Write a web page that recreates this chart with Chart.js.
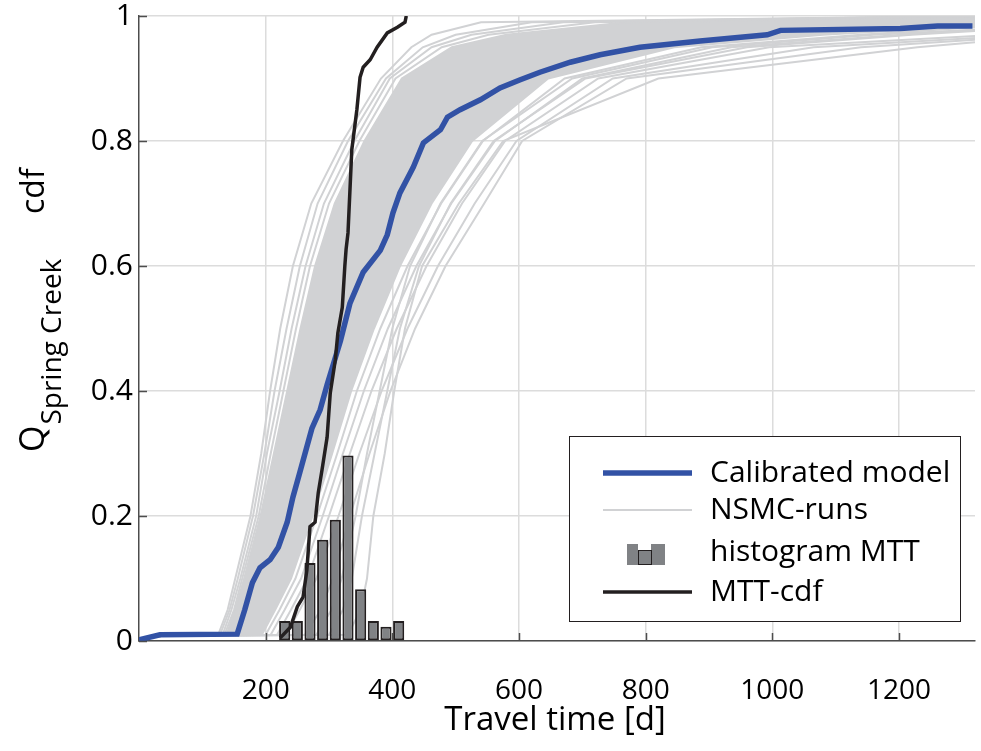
<!DOCTYPE html>
<html>
<head>
<meta charset="utf-8">
<script src="https://cdn.jsdelivr.net/npm/chart.js@4.4.1/dist/chart.umd.min.js"></script>
<style>
html, body { margin: 0; padding: 0; background: #fff; }
</style>
</head>
<body>
<canvas id="myChart" width="981" height="751"></canvas>
<script>
// calibrated model cdf (travel time in days, cdf)
const calibratedX = [0, 33, 155, 167, 179, 191, 207, 220, 234, 243, 254, 273, 286, 297, 318, 333, 354, 381, 392, 401, 412, 433, 449, 476, 487, 507, 539, 570, 602, 633, 681, 728, 791, 886, 992, 1013, 1202, 1261, 1316];
const calibratedY = [0.002, 0.01, 0.011, 0.05, 0.093, 0.117, 0.13, 0.15, 0.19, 0.23, 0.27, 0.34, 0.37, 0.41, 0.48, 0.54, 0.59, 0.625, 0.65, 0.685, 0.717, 0.758, 0.797, 0.818, 0.838, 0.85, 0.866, 0.885, 0.898, 0.91, 0.926, 0.938, 0.95, 0.96, 0.97, 0.977, 0.98, 0.984, 0.984];

// MTT cdf
const mttX = [223, 239, 250, 259, 265, 270, 278, 283, 289, 297, 302, 310, 314, 321, 325, 327, 330, 336, 344, 349, 354, 365, 376, 392, 408, 420, 422];
const mttY = [0.005, 0.022, 0.055, 0.07, 0.113, 0.183, 0.19, 0.237, 0.274, 0.326, 0.397, 0.45, 0.493, 0.534, 0.6, 0.627, 0.653, 0.786, 0.85, 0.902, 0.918, 0.93, 0.95, 0.973, 0.982, 0.99, 1.0];

// histogram of MTT
const histCenters = [230, 250, 270, 290, 310, 330, 350, 370, 390, 410];
const histValues = [0.032, 0.032, 0.125, 0.162, 0.194, 0.297, 0.083, 0.032, 0.023, 0.032];

// NSMC runs: travel time where each run reaches these cdf levels
const nsmcLevels = [0.01, 0.05, 0.1, 0.2, 0.3, 0.4, 0.5, 0.6, 0.7, 0.8, 0.9, 0.95, 0.97, 0.99];
const nsmcStartX = [0, 35];
const nsmcStartY = [0.003, 0.008];
const nsmcLastX = 1320;
const nsmcRuns = [
  [125, 140, 152, 176, 193, 207, 223, 243, 272, 322, 382, 430, 462, 540],
  [128, 143, 156, 180, 198, 214, 233, 254, 282, 330, 390, 448, 500, 620],
  [132, 146, 160, 185, 202, 222, 241, 263, 292, 340, 396, 462, 525, 670],
  [135, 150, 163, 189, 208, 228, 248, 270, 300, 348, 405, 478, 552, 720],
  [138, 152, 166, 192, 213, 234, 255, 278, 309, 356, 415, 494, 580, 770],
  [141, 156, 171, 197, 219, 241, 263, 287, 320, 365, 428, 510, 610, 830],
  [144, 159, 175, 201, 224, 247, 270, 296, 330, 375, 440, 528, 640, 880],
  [147, 163, 180, 206, 230, 253, 278, 305, 340, 385, 452, 545, 668, 920],
  [150, 166, 184, 211, 236, 259, 285, 313, 350, 395, 465, 565, 700, 970],
  [153, 170, 188, 216, 242, 266, 292, 322, 360, 405, 478, 585, 730, 1010],
  [156, 174, 193, 221, 248, 272, 299, 331, 369, 416, 492, 605, 760, 1050],
  [159, 177, 197, 226, 253, 279, 306, 339, 378, 426, 505, 625, 790, 1090],
  [162, 181, 202, 232, 259, 285, 313, 347, 387, 437, 518, 648, 820, 1130],
  [166, 185, 206, 237, 265, 291, 320, 355, 396, 448, 532, 670, 850, 1170],
  [170, 189, 211, 242, 271, 298, 328, 364, 406, 459, 547, 694, 880, 1210],
  [174, 194, 216, 248, 278, 305, 336, 372, 416, 471, 562, 718, 910, 1250],
  [178, 198, 221, 254, 284, 312, 344, 381, 426, 484, 580, 745, 945, 1295],
  [183, 203, 227, 260, 291, 319, 352, 390, 437, 497, 600, 775, 985, null],
  [188, 209, 233, 267, 298, 327, 361, 401, 449, 511, 622, 808, 1030, null],
  [194, 215, 240, 274, 305, 335, 371, 412, 462, 526, 646, 845, 1080, null],
  [200, 222, 247, 281, 313, 344, 381, 424, 477, 543, 672, 888, 1140, null],
  [208, 230, 256, 290, 322, 355, 393, 438, 493, 562, 700, 935, 1205, null],
  [218, 240, 266, 300, 333, 367, 407, 454, 510, 578, 725, 995, null, null],
  [232, 254, 280, 315, 348, 383, 424, 472, 530, 596, 748, 1065, null, null],
  [262, 287, 306, 333, 364, 397, 436, 484, 545, 605, 770, 1140, null, null],
  [330, 350, 360, 370, 388, 403, 420, 447, 505, 575, 820, 1229, null, null],
  [300, 322, 336, 352, 372, 392, 412, 442, 492, 560, 705, 960, 1220, null],
  [280, 304, 320, 342, 360, 380, 400, 428, 476, 542, 684, 905, 1160, null]
];
// cdf value of each run at the right edge
const nsmcEnd = [1.0, 1.0, 1.0, 1.0, 0.998, 0.998, 0.997, 0.997, 0.996, 0.996, 0.995, 0.995, 0.994, 0.994, 0.993, 0.992, 0.991, 0.988, 0.986, 0.984, 0.982, 0.978, 0.968, 0.965, 0.962, 0.958, 0.976, 0.978];
// the runs overlap so much between these two that the band is solid grey
const denseFrom = 4;
const denseTo = 19;

const xTicks = [200, 400, 600, 800, 1000, 1200];
const yTicks = [0, 0.2, 0.4, 0.6, 0.8, 1];

const FONT = '"Open Sans", "Noto Sans", sans-serif';
const BLUE = 'rgb(50, 82, 165)';
const GREY = 'rgb(209, 210, 212)';
const DARK = '#231f20';
const BARFILL = '#808285';

function toPoints(xs, ys) {
  return xs.map((x, i) => ({ x: x, y: ys[i] }));
}

const datasets = [];

nsmcRuns.forEach((run, k) => {
  const pts = toPoints(nsmcStartX, nsmcStartY);
  run.forEach((x, i) => {
    if (x !== null) pts.push({ x: x, y: nsmcLevels[i] });
  });
  pts.push({ x: nsmcLastX, y: nsmcEnd[k] });
  datasets.push({
    type: 'line',
    label: k === 0 ? 'NSMC-runs' : '',
    data: pts,
    borderColor: GREY,
    backgroundColor: GREY,
    borderWidth: 2,
    pointRadius: 0,
    fill: k === denseFrom ? denseTo : false,
    order: 3
  });
});

datasets.push({
  type: 'line',
  label: 'Calibrated model',
  data: toPoints(calibratedX, calibratedY),
  borderColor: BLUE,
  borderWidth: 5.5,
  pointRadius: 0,
  fill: false,
  order: 2
});

datasets.push({
  type: 'bar',
  label: 'histogram MTT',
  data: toPoints(histCenters, histValues),
  backgroundColor: BARFILL,
  borderColor: DARK,
  borderWidth: 2,
  borderSkipped: false,
  barPercentage: 0.88,
  categoryPercentage: 1,
  order: 1
});

datasets.push({
  type: 'line',
  label: 'MTT-cdf',
  data: toPoints(mttX, mttY),
  borderColor: DARK,
  borderWidth: 3.5,
  pointRadius: 0,
  fill: false,
  order: 0
});

// inner tick marks, axis titles with subscript, legend box
const extras = {
  id: 'extras',
  afterDatasetsDraw(chart) {
    const ctx = chart.ctx;
    const a = chart.chartArea;
    const xs = chart.scales.x, ys = chart.scales.y;
    ctx.save();
    ctx.strokeStyle = '#4d4d4d';
    ctx.lineWidth = 1.5;
    ctx.beginPath();
    xs.ticks.forEach(t => {
      const px = Math.round(xs.getPixelForValue(t.value)) + 0.5;
      ctx.moveTo(px, a.bottom);
      ctx.lineTo(px, a.bottom - 8);
    });
    ys.ticks.forEach(t => {
      const py = Math.round(ys.getPixelForValue(t.value)) + 0.5;
      ctx.moveTo(a.left, py);
      ctx.lineTo(a.left + 8, py);
    });
    ctx.stroke();
    ctx.restore();
  },
  afterDraw(chart) {
    const ctx = chart.ctx;
    ctx.save();
    ctx.fillStyle = '#000';

    // x title
    ctx.font = '33px ' + FONT;
    ctx.textAlign = 'center';
    ctx.textBaseline = 'middle';
    ctx.fillText('Travel time [d]', 555, 721);

    // y title, rotated, with subscript
    ctx.save();
    ctx.translate(44, 452);
    ctx.rotate(-Math.PI / 2);
    ctx.textAlign = 'left';
    ctx.textBaseline = 'alphabetic';
    ctx.font = '34px ' + FONT;
    ctx.fillText('Q', 0, 0);
    const qw = ctx.measureText('Q').width;
    ctx.font = '28px ' + FONT;
    ctx.fillText('Spring Creek', qw + 1, 17);
    ctx.font = '32px ' + FONT;
    ctx.fillText('cdf', 238, 0);
    ctx.restore();

    // legend
    const bx = 569.5, by = 436.5, bw = 391, bh = 185;
    ctx.fillStyle = '#fff';
    ctx.fillRect(bx, by, bw, bh);
    ctx.strokeStyle = DARK;
    ctx.lineWidth = 1;
    ctx.strokeRect(bx, by, bw, bh);

    const ds = chart.data.datasets;
    const blue = ds.find(d => d.label === 'Calibrated model');
    const grey = ds.find(d => d.label === 'NSMC-runs');
    const hist = ds.find(d => d.label === 'histogram MTT');
    const mtt = ds.find(d => d.label === 'MTT-cdf');
    const rows = [
      { ds: blue, y: 473, kind: 'line' },
      { ds: grey, y: 510, kind: 'line' },
      { ds: hist, y: 552, kind: 'bar' },
      { ds: mtt, y: 592, kind: 'line' }
    ];
    rows.forEach(r => {
      if (r.kind === 'line') {
        ctx.strokeStyle = r.ds.borderColor;
        ctx.lineWidth = r.ds.borderWidth;
        ctx.beginPath();
        ctx.moveTo(603, r.y);
        ctx.lineTo(692, r.y);
        ctx.stroke();
      } else {
        ctx.fillStyle = r.ds.backgroundColor;
        ctx.strokeStyle = r.ds.borderColor;
        ctx.lineWidth = 1;
        ctx.fillRect(627, 544, 11, 21);
        ctx.fillRect(651, 544, 14, 21);
        ctx.fillRect(638, 550, 13, 15);
        ctx.strokeRect(638.5, 550.5, 13, 14);
      }
      ctx.fillStyle = '#000';
      ctx.font = '30px ' + FONT;
      ctx.textAlign = 'left';
      ctx.textBaseline = 'middle';
      ctx.fillText(r.ds.label, 710, r.y);
    });
    ctx.restore();
  }
};

const config = {
  type: 'line',
  data: { datasets: datasets },
  options: {
    responsive: false,
    animation: false,
    events: [],
    layout: { padding: { top: 16, right: 6, left: 0, bottom: 0 } },
    plugins: {
      legend: { display: false },
      tooltip: { enabled: false }
    },
    scales: {
      x: {
        type: 'linear',
        min: 0,
        max: 1320,
        offset: false,
        afterFit: s => { s.height = 110; s.paddingLeft = 0; s.paddingRight = 0; },
        afterBuildTicks: s => { s.ticks = xTicks.map(v => ({ value: v })); },
        ticks: {
          padding: 33,
          color: '#000',
          font: { family: FONT, size: 28 },
          maxRotation: 0,
          callback: v => String(v)
        },
        grid: { color: '#dcdcdc', lineWidth: 1.5, drawTicks: false, offset: false },
        border: { display: true, color: '#4d4d4d', width: 1.5 }
      },
      y: {
        min: 0,
        max: 1,
        afterFit: s => { s.width = 139; s.paddingTop = 0; s.paddingBottom = 0; },
        afterBuildTicks: s => { s.ticks = yTicks.map(v => ({ value: v })); },
        ticks: {
          padding: 6,
          color: '#000',
          font: { family: FONT, size: 30 },
          callback: v => String(Math.round(v * 10) / 10)
        },
        grid: { color: '#dcdcdc', lineWidth: 1.5, drawTicks: false },
        border: { display: true, color: '#4d4d4d', width: 1.5 }
      }
    }
  },
  plugins: [extras]
};

const myChart = new Chart(document.getElementById('myChart'), config);
</script>
</body>
</html>
